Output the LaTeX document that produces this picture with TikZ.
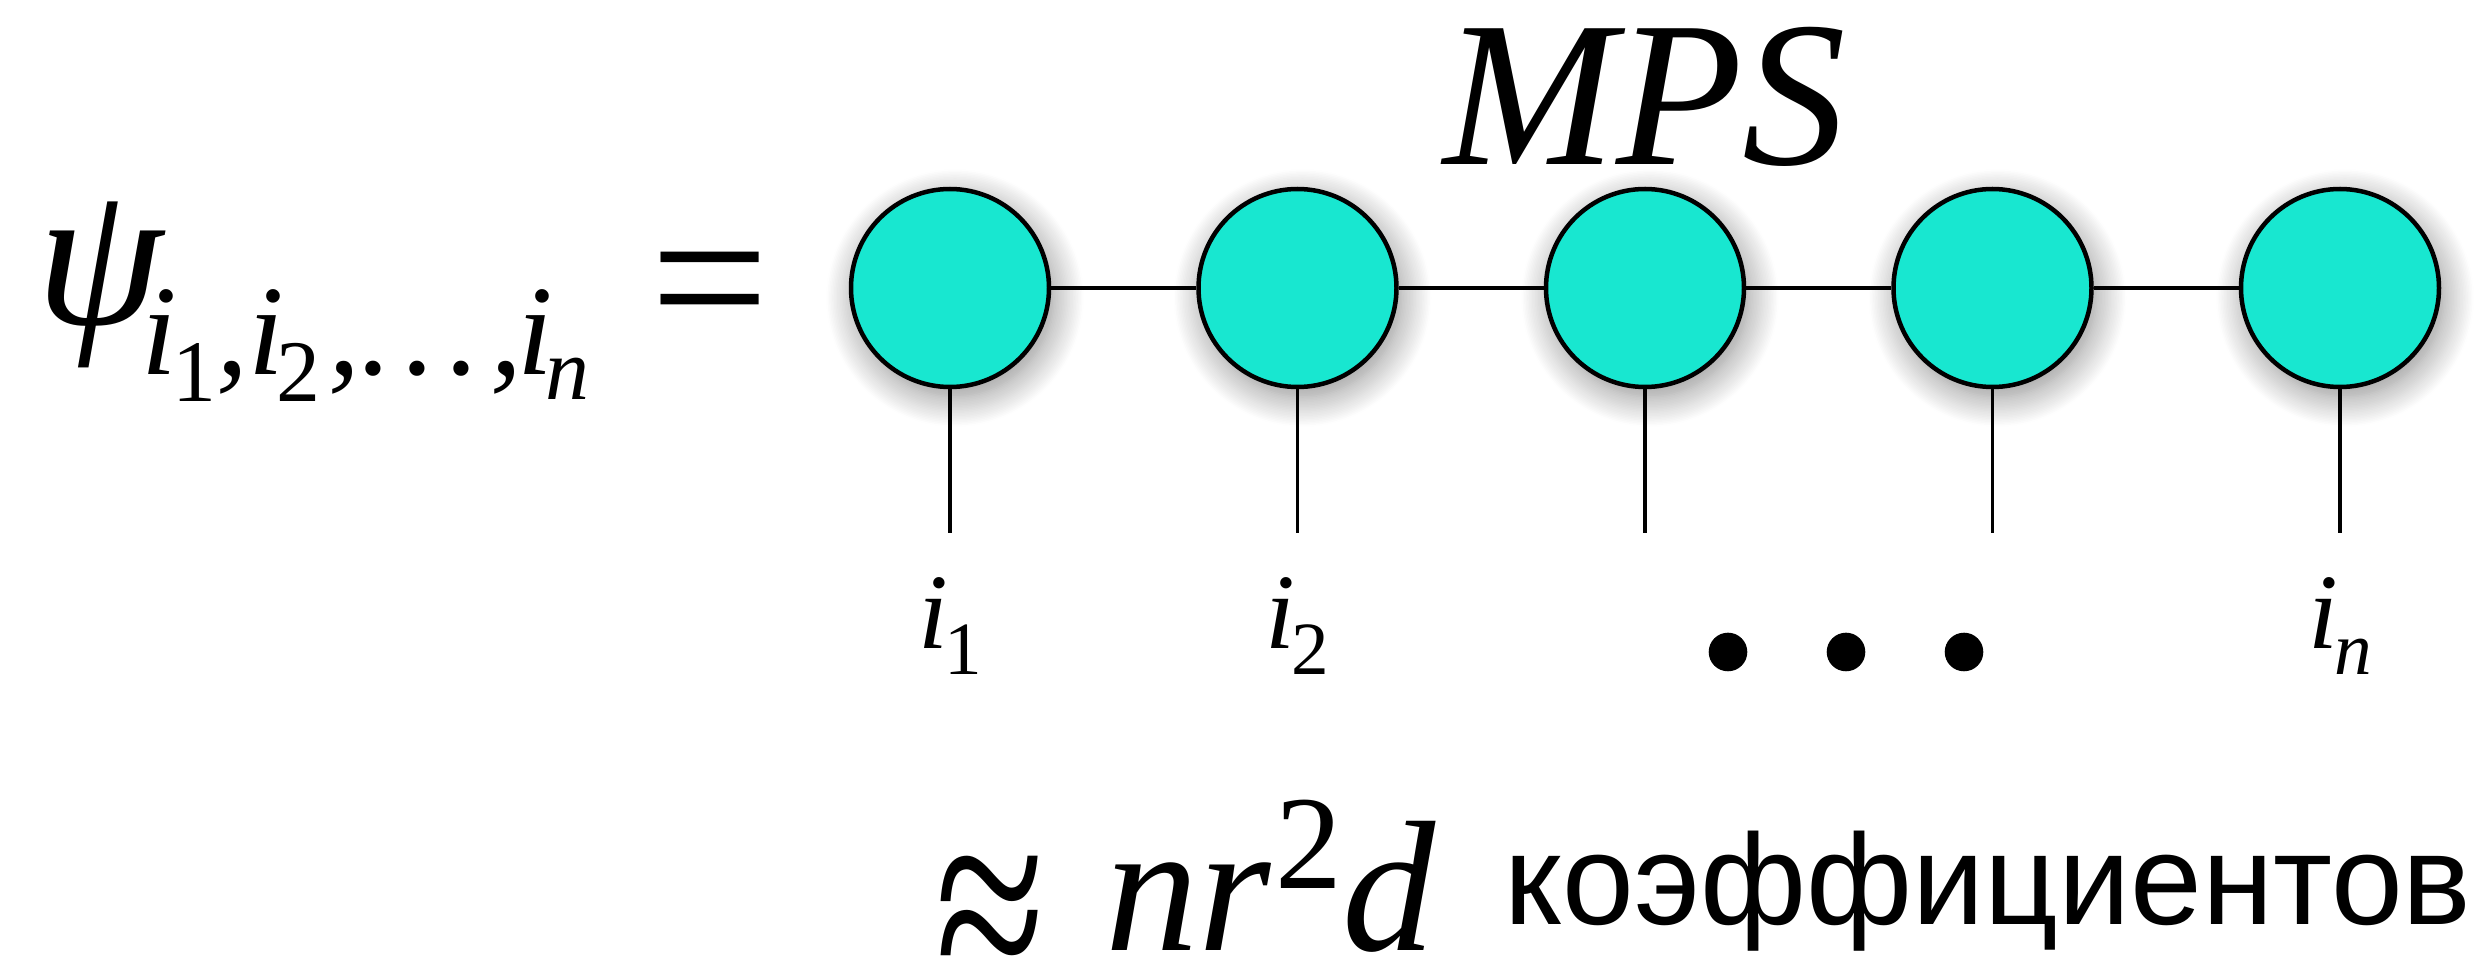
\documentclass[tikz,border=0pt]{standalone}
\usepackage{fontspec}
\setmainfont{Liberation Serif}
\setsansfont{Liberation Sans}
\usepackage{tikz}
\usetikzlibrary{positioning, calc, shadows.blur}

\definecolor{mpscyan}{RGB}{24,231,208}

\begin{document}
\begin{tikzpicture}[
        node distance=14.5mm,
        tensor/.style={circle, draw=black, line width=0.45mm, fill=mpscyan, minimum size=19.8mm, inner sep=0pt,
            blur shadow={shadow xshift=0.5mm, shadow yshift=-1.0mm, shadow blur radius=3mm, shadow blur steps=20, shadow opacity=45}},
        bond/.style={line width=0.4mm},
        leg/.style={line width=0.35mm},
        idx/.style={inner sep=0pt, anchor=base, font=\fontsize{30.5}{32}\selectfont\itshape},
        dot/.style={circle, fill=black, minimum size=3.86mm, inner sep=0pt}
    ]
        \useasboundingbox (0,0) rectangle (24.84,-9.56);

        % left hand side
        \node[anchor=base west, inner sep=0pt, font=\fontsize{58}{60}\selectfont\itshape] (psi) at (0.36,-3.25) {ψ};
        \node[anchor=base west, inner sep=0pt, font=\fontsize{36.5}{40}\selectfont\itshape] (psisub) at (1.41,-3.75)
            {i\kern-0.5mm\raisebox{-2.7mm}{\fontsize{25}{25}\selectfont\upshape 1},i\kern-0.7mm\raisebox{-2.7mm}{\fontsize{25}{25}\selectfont\upshape 2}\kern0.8mm,.\kern1.15mm.\kern1.15mm.\kern1mm,\kern-0.5mm i\kern-0.7mm\raisebox{-2.5mm}{\fontsize{25}{25}\selectfont n}};
        \node[anchor=base, inner sep=0pt, font=\fontsize{60}{60}\selectfont] (eq) at (7.10,-3.49) {=};

        % the chain
        \node[tensor] (c1) at (9.50,-2.88) {};
        \node[tensor, right=of c1] (c2) {};
        \node[tensor, right=of c2] (c3) {};
        \node[tensor, right=of c3] (c4) {};
        \node[tensor, right=of c4] (c5) {};

        \node[anchor=base, inner sep=0pt, font=\fontsize{59}{60}\selectfont\itshape] (mps) at ($(c3)+(0,1.23)$) {MPS};

        \draw[bond] (c1) -- (c2);
        \draw[bond] (c2) -- (c3);
        \draw[bond] (c3) -- (c4);
        \draw[bond] (c4) -- (c5);

        % physical legs
        \coordinate[below=14.4mm of c1] (e1);
        \coordinate[below=14.4mm of c2] (e2);
        \coordinate[below=14.4mm of c3] (e3);
        \coordinate[below=14.4mm of c4] (e4);
        \coordinate[below=14.4mm of c5] (e5);
        \draw[leg] (c1) -- (e1);
        \draw[leg] (c2) -- (e2);
        \draw[leg] (c3) -- (e3);
        \draw[leg] (c4) -- (e4);
        \draw[leg] (c5) -- (e5);

        \node[idx] (t1) at ($(e1)+(0,-1.15)$) {i\kern-0.4mm\raisebox{-2.6mm}{\fontsize{21.4}{22}\selectfont\upshape 1}};
        \node[idx] (t2) at ($(e2)+(0,-1.15)$) {i\kern-0.4mm\raisebox{-2.6mm}{\fontsize{21.4}{22}\selectfont\upshape 2}};
        \node[idx] (tn) at ($(e5)+(0,-1.15)$) {i\kern-0.4mm\raisebox{-2.6mm}{\fontsize{21.4}{22}\selectfont n}};

        \node[dot] (d1) at (17.28,-6.52) {};
        \node[dot, right=7.8mm of d1] (d2) {};
        \node[dot, right=7.8mm of d2] (d3) {};

        % cost
        \node[anchor=base west, inner sep=0pt, font=\fontsize{57}{60}\selectfont] (approx) at (9.35,-9.96) {\scalebox{1}[1.35]{≈}};
        \node[anchor=base west, inner sep=0pt, font=\fontsize{53}{55}\selectfont\itshape] (nrd) at (11.05,-9.50)
            {nr\kern0.4mm\raisebox{6.2mm}{\fontsize{38}{38}\selectfont\upshape 2}d};
        \node[anchor=base west, inner sep=0pt, font=\sffamily\fontsize{36.7}{38}\selectfont] (coef) at (15.04,-9.25) {коэффициентов};
\end{tikzpicture}
\end{document}
